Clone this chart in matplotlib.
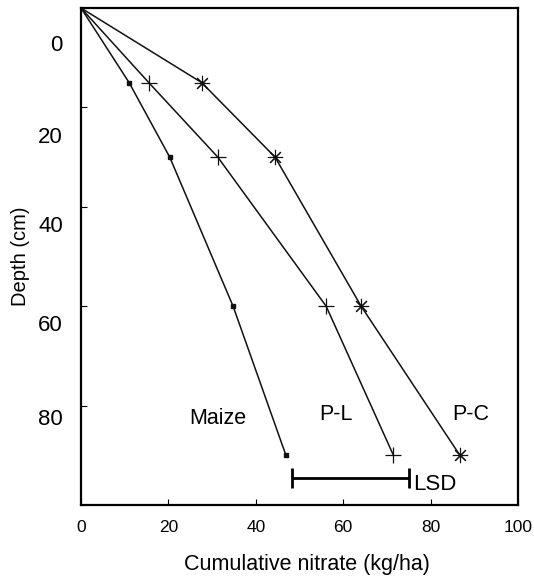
import matplotlib
matplotlib.use("Agg")
import matplotlib.pyplot as plt

plt.rcParams['font.family'] = ['Liberation Sans', 'DejaVu Sans']
plt.rcParams['xtick.direction'] = 'in'
plt.rcParams['ytick.direction'] = 'in'

depth = [0, 15, 30, 60, 90]
maize = [0, 11.0, 20.3, 34.8, 46.9]
pl = [0, 15.5, 31.3, 56.1, 71.5]
pc = [0, 27.6, 44.4, 64.1, 86.7]
series_names = ["Maize", "P-L", "P-C"]
lsd_range = [48.3, 75.0]
lsd_depth = 94.5
x_ticks = [0, 20, 40, 60, 80, 100]
y_ticks = [0, 20, 40, 60, 80]
y_tick_labels = ["0", "20", "40", "60", "80"]

fig = plt.figure(figsize=(5.34, 5.80), dpi=100)
ax = fig.add_axes([81/534, 1-505/580, (518-81)/534, (505-8)/580])

ax.plot(maize, depth, color='#111111', lw=1.1, marker='s', ms=2.3, markevery=[1, 2, 3, 4])
ax.plot(pl, depth, color='#111111', lw=1.1, marker='+', ms=11, mew=0.9, markevery=[1, 2, 3, 4])
ax.plot(pc, depth, color='#111111', lw=1.1, marker=(8, 2, 0), ms=11, mew=0.8, markevery=[1, 2, 3, 4])

# LSD bar
ax.errorbar([(lsd_range[0] + lsd_range[1]) / 2], [lsd_depth],
            xerr=[(lsd_range[1] - lsd_range[0]) / 2], color='black',
            elinewidth=2, capsize=7, capthick=2, fmt='none')
ax.text(lsd_range[1] + 1.0, lsd_depth + 1.3, "LSD", fontsize=16, va='center', ha='left')

# Series labels
ax.text(31.2, 82.5, series_names[0], fontsize=15.5, ha='center', va='center')
ax.text(58.4, 81.8, series_names[1], fontsize=15.5, ha='center', va='center')
ax.text(89.3, 81.8, series_names[2], fontsize=15.5, ha='center', va='center')

ax.set_xlim(0, 100)
ax.set_ylim(100, 0)

ax.set_xticks(x_ticks)
ax.set_xticklabels([str(v) for v in x_ticks], fontsize=12.5)
ax.tick_params(axis='x', direction='in', length=4, width=0.8, pad=11)

# tick marks at the depth values; labels drawn slightly lower as in the original
ax.set_yticks(y_ticks, minor=True)
ax.set_yticks([y + off for y, off in zip(y_ticks, [7.0, 5.6, 3.5, 3.4, 2.3])])
ax.set_yticklabels(y_tick_labels, fontsize=16)
ax.tick_params(axis='y', which='major', length=0, pad=13)
ax.tick_params(axis='y', which='minor', direction='in', length=4, width=0.8)

for s in ax.spines.values():
    s.set_linewidth(1.6)

ax.set_xlabel("Cumulative nitrate (kg/ha)", fontsize=15.5)
ax.xaxis.set_label_coords(0.517, -0.098)
ax.set_ylabel("Depth (cm)", fontsize=14.5, labelpad=6)

fig.savefig("out.png", dpi=100)
